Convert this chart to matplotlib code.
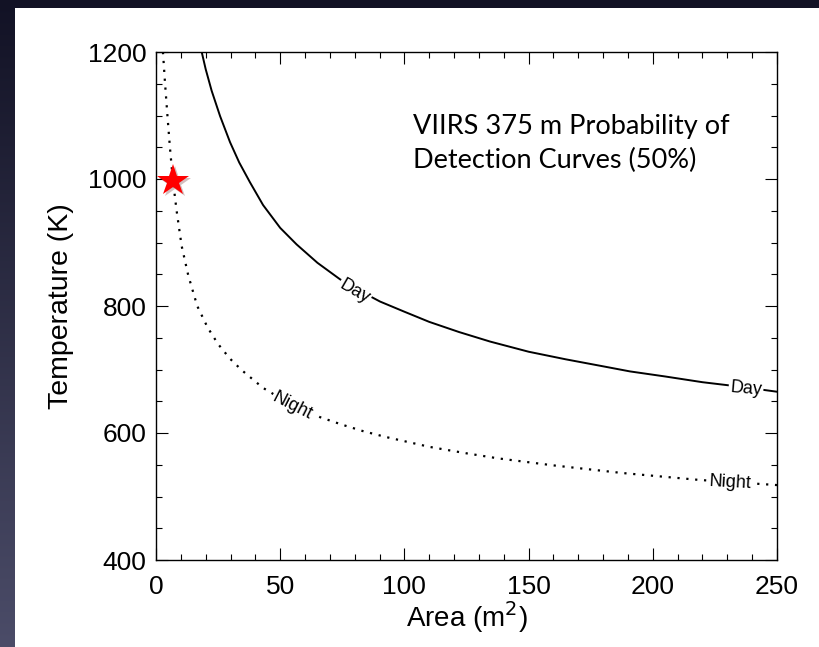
import numpy as np
import matplotlib
matplotlib.use("Agg")
import matplotlib.pyplot as plt
from matplotlib.colors import LinearSegmentedColormap
from matplotlib.patches import Rectangle
from matplotlib.ticker import MultipleLocator
import matplotlib.patheffects as pe

plt.rcParams['font.family'] = ['Liberation Sans', 'DejaVu Sans']

# 50% probability-of-detection curves
day_area = [18.4, 20, 22.4, 25.8, 29.8, 33.5, 37.8, 43.1, 50, 56.6, 65, 74.1, 82,
            90.2, 100, 110, 122, 134.5, 150, 165, 180, 190.8, 205, 220, 235, 250]
day_temp = [1200, 1173, 1139, 1099, 1058, 1026, 995, 959, 923, 897, 868, 842, 824,
            807, 791, 775, 759, 744, 728, 716, 705, 697, 689, 680, 673, 665]

night_area = [2.8, 3.65, 4.6, 5.6, 6.75, 8.3, 10.3, 13.0, 16.6, 20.8, 25, 29.8, 34.5,
              43.1, 50, 55.2, 66, 75, 83.3, 92.2, 110.3, 125, 137.8, 160, 187.7, 219, 250]
night_temp = [1200, 1150, 1100, 1050, 1000, 950, 895, 848, 800, 766, 740, 717, 699,
              671, 655, 644, 625, 613, 603, 594, 578, 568, 560, 549, 537, 526, 518]

star_area = [6.8]
star_temp = [997]

W, H = 820, 647
fig = plt.figure(figsize=(W / 100, H / 100), dpi=100)

# slide background: dark gradient with white panel
bg = fig.add_axes([0, 0, 1, 1], zorder=-1)
cmap = LinearSegmentedColormap.from_list('slide', ['#4b4c68', '#121225'])
bg.imshow(np.linspace(0, 1, 256).reshape(-1, 1)[::-1], aspect='auto', cmap=cmap,
          extent=[0, 1, 0, 1], origin='upper')
bg.add_patch(Rectangle((15 / W, 0), 1 - 15 / W, 1 - 8 / H, transform=bg.transAxes,
                       facecolor='white', edgecolor='none'))
bg.set_xlim(0, 1)
bg.set_ylim(0, 1)
bg.axis('off')

ax = fig.add_axes([156 / W, 1 - 560 / H, 621 / W, 508 / H])
ax.set_facecolor('white')

ax.plot(day_area, day_temp, color='black', lw=1.4)
ax.plot(night_area, night_temp, color='black', lw=1.6, linestyle=(0, (1, 3)))

# contour-style labels sitting on the lines
lab = dict(fontsize=13, ha='center', va='center', rotation_mode='anchor',
           bbox=dict(facecolor='white', edgecolor='none', pad=1.0))
ax.text(80, 823, 'Day', rotation=-30, **lab)
ax.text(237.5, 669, 'Day', rotation=-5, **lab)
ax.text(55, 642, 'Night', rotation=-27, **lab)
ax.text(231, 522, 'Night', rotation=-3, **lab)

ax.plot(star_area, star_temp, marker='*', color='red', markersize=24,
        markeredgewidth=0, linestyle='none', clip_on=False, zorder=5,
        path_effects=[pe.SimplePatchShadow(offset=(1.5, -1.5), alpha=0.25), pe.Normal()])

ax.set_xlim(0, 250)
ax.set_ylim(400, 1200)
ax.xaxis.set_major_locator(MultipleLocator(50))
ax.xaxis.set_minor_locator(MultipleLocator(10))
ax.yaxis.set_major_locator(MultipleLocator(200))
ax.yaxis.set_minor_locator(MultipleLocator(50))
ax.tick_params(which='both', direction='in', top=True, right=True, width=0.8)
ax.tick_params(which='major', length=8.5, labelsize=19, pad=7)
ax.tick_params(axis='x', which='major', pad=11)
ax.tick_params(which='minor', length=4.3)
for s in ax.spines.values():
    s.set_linewidth(1.0)

ax.set_xlabel('Area (m$^2$)', fontsize=20, labelpad=0)
ax.set_ylabel('Temperature (K)', fontsize=20.5, labelpad=10)

ax.text(0.414, 0.878, 'VIIRS 375 m Probability of\nDetection Curves (50%)',
        transform=ax.transAxes, fontsize=19.5, family=['Lato', 'DejaVu Sans'],
        ha='left', va='top', linespacing=1.45)

fig.savefig('out.png', dpi=100)
